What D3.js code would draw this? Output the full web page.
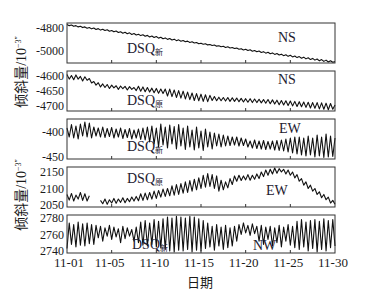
<!DOCTYPE html>
<html><head><meta charset="utf-8">
<script src="https://cdn.jsdelivr.net/npm/d3@7"></script>
<style>body{margin:0;background:#fff}svg{display:block}</style>
</head><body><svg id="c" width="382" height="298"></svg>
<script>
// ---- data ----
const sampleStepDays = 0.25;
const xTickValues = [0, 5, 10, 15, 20, 25, 30];
const xTickLabels = ["11-01", "11-05", "11-10", "11-15", "11-20", "11-25", "11-30"];

const nsNew = [-4770,-4780,-4775,-4786,-4780,-4791,-4785,-4797,-4791,-4802,
-4796,-4808,-4801,-4813,-4806,-4819,-4811,-4823,-4816,-4829,
-4823,-4834,-4827,-4840,-4833,-4846,-4838,-4851,-4843,-4857,
-4849,-4862,-4855,-4867,-4860,-4873,-4865,-4879,-4871,-4884,
-4875,-4889,-4881,-4895,-4887,-4900,-4893,-4905,-4898,-4911,
-4904,-4916,-4910,-4921,-4915,-4927,-4921,-4932,-4927,-4938,
-4933,-4942,-4938,-4948,-4944,-4953,-4949,-4959,-4955,-4964,
-4960,-4970,-4965,-4975,-4971,-4980,-4976,-4986,-4981,-4992,
-4986,-4997,-4991,-5003,-4997,-5008,-5002,-5014,-5007,-5020,
-5013,-5025,-5018,-5031,-5023,-5036,-5029,-5042,-5034,-5048,
-5039,-5053,-5045,-5059,-5050,-5064,-5055,-5070,-5060,-5076,
-5066,-5081,-5071,-5087,-5076,-5092,-5081,-5097,-5086,-5100,-5094];

const nsOld = [-4597,-4612,-4600,-4614,-4598,-4612,-4603,-4618,-4604,-4616,-4610,
-4625,-4620,-4632,-4624,
-4638,-4628,-4640,-4630,-4643,-4632,-4641,-4634,-4646,-4635,-4644,-4636,-4648,-4637,-4646,-4640,
-4650,-4636,-4652,-4638,-4654,-4640,-4655,-4642,-4657,-4643,-4659,-4645,-4660,-4645,
-4668,-4645,-4670,-4648,-4673,-4650,-4675,-4652,-4678,-4655,-4680,-4658,-4683,-4660,-4684,-4662,-4686,-4664,-4687,-4666,
-4683,-4670,-4684,-4672,-4684,-4673,-4685,-4673,-4686,-4674,-4686,-4675,-4687,-4676,-4688,-4677,-4689,-4677,-4690,-4678,-4690,-4679,-4691,-4680,
-4692,-4680,-4694,-4681,-4695,-4682,-4697,-4683,-4698,-4684,-4700,-4685,-4701,-4686,-4703,-4687,-4704,-4688,-4706,-4689,-4708,-4690,-4709,-4690,-4711,-4691,-4712,-4692,-4714,-4693,-4712,-4698];

const ewNew = [-392,-410,-385,-412,-388,-414,-384,-408,-380,-410,-382,-412,-390,
-408,-392,-410,-390,-411,-393,-409,-391,-412,-394,-410,-392,-413,-395,-411,-393,-414,-396,-412,-394,-415,-392,-416,-390,
-420,-388,-424,-392,-430,-384,-426,-390,-432,-386,-424,-389,-434,-385,-428,-392,-435,-388,-430,-396,-436,-390,-432,-398,-437,-394,-430,-400,-434,-402,
-428,-404,-430,-406,-428,-408,-427,-410,-426,-410,-428,-412,-427,-414,
-430,-418,-432,-416,-433,-418,-434,-417,-435,-419,-434,-418,-436,-417,-437,-416,-438,-414,-440,-412,-442,-410,
-444,-410,-446,-412,-448,-408,-446,-412,-450,-406,-448,-410,-451,-404,-450,-408,-449,-412];

const ewOld = [2082,2065,2085,2062,2080,2068,2088,2064,2084,2062,2078,
null,null,null,null,
2064,2054,2068,2052,2066,2056,2070,2055,2068,2058,2072,2057,2070,2060,2074,2062,2076,2063,
2084,2064,2086,2066,2088,2068,2092,2070,2094,2074,2098,2076,2100,2078,
2108,2080,2112,2082,2115,2086,2120,2088,2124,2092,2128,2096,2132,2100,2140,
2104,2145,2106,2142,2100,2138,
2092,2125,2096,2120,2102,2130,2112,
2138,2122,2140,2124,2138,2126,2142,2125,2140,2128,2144,2130,
2150,2136,2156,2140,2158,2144,2162,2146,2160,2150,2158,2144,2156,2140,2150,
2132,2142,2122,2130,2110,2120,2100,2110,2092,2100,2082,2090,2072,2082,2066,
2074,2056,2064,2052];

const nwNew = [2743,2774,2748,2772,2745,2775,2747,2773,2746,2774,2749,2772,2748,2771,
2756,2770,2752,2768,2758,2771,2754,2769,2757,2767,2750,2770,2755,2768,2758,2766,2752,2769,
2750,2775,2747,2777,2746,2774,2748,2778,2745,2776,2744,2779,
2742,2781,2740,2780,2739,2782,2741,2781,2740,2780,2742,2782,2739,2781,2741,2779,2740,2777,
2743,2774,2745,2770,2741,2772,2746,2769,2742,2771,2744,2768,2746,2770,2752,2772,
2760,2774,2762,2771,2759,2773,2761,2770,
2752,2771,2748,2769,2754,2770,2746,2768,2750,2771,2745,2769,2752,2772,2747,2770,
2744,2776,2742,2778,2745,2775,2740,2777,2743,2778,2739,2776,2742,2779,2740,2777,2744,2778,2746];

const yTicks1 = [-4800, -5000];
const yTicks2 = [-4600, -4650, -4700];
const yTicks3 = [-400, -450];
const yTicks4 = [2050, 2100, 2150];
const yTicks5 = [2740, 2760, 2780];

// ---- layout ----
const svg = d3.select("#c");
const left = 67, right = 335;
const x = d3.scaleLinear().domain([0, 30]).range([left, right]);
const serif = "'Liberation Serif','Times New Roman',serif";
const cjk = "'Liberation Serif','Noto Sans CJK SC',serif";
const ink = "#1b1b1b";

const panels = [
  {data: nsNew, domain: [-5106, -4757], ticks: yTicks1, top: 23, bottom: 63,
   labels: [{t: "DSQ", sub: "新", x: 127, y: 53}, {t: "NS", x: 278, y: 42}]},
  {data: nsOld, domain: [-4718, -4585], ticks: yTicks2, top: 71, bottom: 111,
   labels: [{t: "DSQ", sub: "原", x: 127, y: 105}, {t: "NS", x: 278, y: 84}]},
  {data: ewNew, domain: [-454, -374], ticks: yTicks3, top: 119, bottom: 159,
   labels: [{t: "DSQ", sub: "新", x: 127, y: 151}, {t: "EW", x: 279, y: 133}]},
  {data: ewOld, domain: [2044, 2165], ticks: yTicks4, top: 167, bottom: 207,
   labels: [{t: "DSQ", sub: "原", x: 127, y: 183}, {t: "EW", x: 266, y: 195}]},
  {data: nwNew, domain: [2737.6, 2783.6], ticks: yTicks5, top: 215, bottom: 253,
   labels: [{t: "DSQ", sub: "新", x: 132, y: 249}, {t: "NW", x: 253, y: 250}]}
];

panels.forEach((p, pi) => {
  const y = d3.scaleLinear().domain(p.domain).range([p.bottom, p.top]);
  const g = svg.append("g");
  const pts = p.data.map((v, i) => ({t: i * sampleStepDays, v}));
  g.append("path")
    .datum(pts)
    .attr("fill", "none").attr("stroke", "#111").attr("stroke-width", 1.1)
    .attr("stroke-linejoin", "round")
    .attr("d", d3.line().defined(d => d.v != null).x(d => x(d.t)).y(d => y(d.v)));
  g.append("rect").attr("x", left).attr("y", p.top)
    .attr("width", right - left).attr("height", p.bottom - p.top)
    .attr("fill", "none").attr("stroke", "#333").attr("stroke-width", 1);
  g.selectAll("line.xt").data(xTickValues.slice(1, -1)).join("line")
    .attr("x1", d => x(d)).attr("x2", d => x(d))
    .attr("y1", p.bottom).attr("y2", p.bottom - 3)
    .attr("stroke", "#333");
  g.selectAll("text.yt").data(p.ticks).join("text")
    .attr("x", left - 3).attr("y", d => y(d)).attr("dy", "0.35em")
    .attr("text-anchor", "end")
    .attr("font-family", serif).attr("font-size", 12).attr("fill", ink)
    .text(d => String(d));
  p.labels.forEach(l => {
    const tx = g.append("text").attr("x", l.x).attr("y", l.y)
      .attr("font-family", serif).attr("font-size", 14).attr("fill", "#1d2030");
    tx.append("tspan").text(l.t);
    if (l.sub) tx.append("tspan").attr("font-family", cjk).attr("font-size", 8)
      .attr("dy", 2).text(l.sub);
  });
});

const last = panels[panels.length - 1];
svg.selectAll("text.xl").data(xTickValues).join("text")
  .attr("x", (d, i) => i === 0 ? x(d) + 2 : x(d) - 2).attr("y", last.bottom + 14)
  .attr("text-anchor", "middle")
  .attr("font-family", serif).attr("font-size", 13).attr("fill", ink)
  .text((d, i) => xTickLabels[i]);

svg.append("text").attr("x", 200).attr("y", 287).attr("text-anchor", "middle")
  .attr("font-family", cjk).attr("font-size", 13).attr("fill", ink).text("日期");

[72, 195].forEach(cy => {
  const t = svg.append("text")
    .attr("transform", `translate(26,${cy}) rotate(-90)`)
    .attr("text-anchor", "middle")
    .attr("font-family", cjk).attr("font-size", 14).attr("fill", ink);
  t.append("tspan").text("倾斜量/10");
  t.append("tspan").attr("font-size", 8).attr("dy", -5).text("−3″");
});
</script></body></html>
